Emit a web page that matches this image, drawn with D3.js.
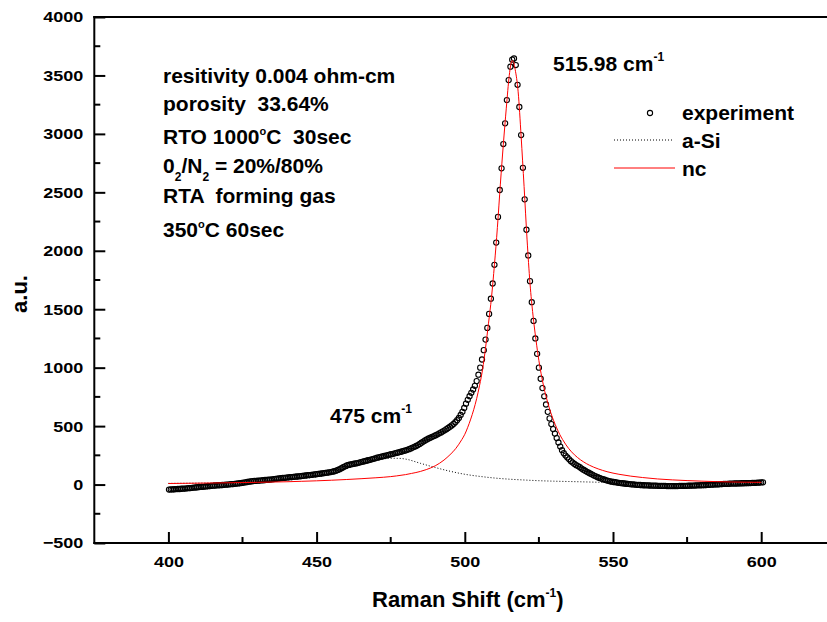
<!DOCTYPE html>
<html><head><meta charset="utf-8">
<script src="https://cdn.jsdelivr.net/npm/d3@7"></script>
<style>
body{margin:0;background:#fff}
svg{display:block}
text{font-family:"Liberation Sans",Arial,sans-serif;font-weight:bold;fill:#000;white-space:pre}
</style>
</head><body>
<svg id="c" width="827" height="622"></svg>
<script>
// Raman shift (cm-1) of the measured points
const ramanShift = [
400.2,400.8,401.4,402.0,402.6,403.2,403.8,404.4,405.0,405.6,
406.2,406.8,407.4,408.0,408.6,409.2,409.8,410.4,411.0,411.6,
412.2,412.8,413.4,414.0,414.6,415.2,415.8,416.4,417.0,417.6,
418.2,418.8,419.4,420.0,420.6,421.2,421.8,422.4,423.0,423.6,
424.2,424.8,425.4,426.0,426.6,427.2,427.8,428.4,429.0,429.6,
430.2,430.8,431.4,432.0,432.6,433.2,433.8,434.4,435.0,435.6,
436.2,436.8,437.4,438.0,438.6,439.2,439.8,440.4,441.0,441.6,
442.2,442.8,443.4,444.0,444.6,445.2,445.8,446.4,447.0,447.6,
448.2,448.8,449.4,450.0,450.6,451.2,451.8,452.4,453.0,453.6,
454.2,454.8,455.4,456.0,456.6,457.2,457.8,458.4,459.0,459.6,
460.2,460.8,461.4,462.0,462.6,463.2,463.8,464.4,465.0,465.6,
466.2,466.8,467.4,468.0,468.6,469.2,469.8,470.4,471.0,471.6,
472.2,472.8,473.4,474.0,474.6,475.2,475.8,476.4,477.0,477.6,
478.2,478.8,479.4,480.0,480.6,481.2,481.8,482.4,483.0,483.6,
484.2,484.8,485.4,486.0,486.6,487.2,487.8,488.4,489.0,489.6,
490.2,490.8,491.4,492.0,492.6,493.2,493.8,494.4,495.0,495.6,
496.2,496.8,497.4,498.0,498.6,499.2,499.8,500.4,501.0,501.6,
502.2,502.8,503.4,504.0,504.6,505.2,505.8,506.4,507.0,507.6,
508.2,508.8,509.4,510.0,510.6,511.2,511.8,512.4,513.0,513.6,
514.2,514.8,515.4,516.0,516.6,517.2,517.8,518.4,519.0,519.6,
520.2,520.8,521.4,522.0,522.6,523.2,523.8,524.4,525.0,525.6,
526.2,526.8,527.4,528.0,528.6,529.2,529.8,530.4,531.0,531.6,
532.2,532.8,533.4,534.0,534.6,535.2,535.8,536.4,537.0,537.6,
538.2,538.8,539.4,540.0,540.6,541.2,541.8,542.4,543.0,543.6,
544.2,544.8,545.4,546.0,546.6,547.2,547.8,548.4,549.0,549.6,
550.2,550.8,551.4,552.0,552.6,553.2,553.8,554.4,555.0,555.6,
556.2,556.8,557.4,558.0,558.6,559.2,559.8,560.4,561.0,561.6,
562.2,562.8,563.4,564.0,564.6,565.2,565.8,566.4,567.0,567.6,
568.2,568.8,569.4,570.0,570.6,571.2,571.8,572.4,573.0,573.6,
574.2,574.8,575.4,576.0,576.6,577.2,577.8,578.4,579.0,579.6,
580.2,580.8,581.4,582.0,582.6,583.2,583.8,584.4,585.0,585.6,
586.2,586.8,587.4,588.0,588.6,589.2,589.8,590.4,591.0,591.6,
592.2,592.8,593.4,594.0,594.6,595.2,595.8,596.4,597.0,597.6,
598.2,598.8,599.4,600.0,600.6];

// measured intensity (a.u.)
const experiment = [
-43,-42,-42,-40,-39,-38,-38,-36,-35,-34,
-32,-31,-30,-28,-26,-25,-23,-21,-20,-19,
-17,-16,-14,-13,-11,-10,-8,-7,-6,-5,
-4,-2,-1,0,2,3,4,6,8,10,
12,14,17,19,22,25,27,29,31,32,
33,34,36,37,39,40,41,43,45,47,
49,51,53,55,57,58,60,62,63,64,
66,67,69,70,72,74,76,78,80,81,
83,85,87,89,91,93,95,97,100,102,
105,107,110,114,119,125,132,140,148,156,
163,168,172,175,178,181,184,188,192,196,
200,204,208,212,216,220,224,230,233,237,
241,245,248,252,256,260,263,267,271,275,
279,283,288,292,297,303,309,316,323,330,
338,348,358,368,377,386,394,401,408,415,
422,430,438,446,455,464,474,484,495,506,
518,533,550,570,595,622,655,692,725,756,
785,813,845,885,940,1000,1070,1150,1240,1340,
1460,1590,1720,1880,2070,2290,2520,2705,2913,3090,
3289,3460,3575,3635,3645,3589,3420,3230,2990,2710,
2440,2180,1960,1740,1560,1400,1250,1118,1000,905,
825,755,685,622,566,517,475,436,398,360,
325,294,268,248,232,216,200,188,176,166,
158,148,137,127,118,109,101,93,85,77,
70,63,57,51,46,41,36,32,28,25,
22,20,17,15,13,11,9,7,5,4,
2,1,0,-2,-3,-4,-5,-6,-7,-7,
-8,-9,-9,-10,-10,-11,-11,-12,-12,-12,
-13,-13,-13,-13,-13,-13,-13,-12,-12,-12,
-11,-11,-10,-10,-9,-9,-8,-7,-7,-6,
-5,-5,-4,-3,-2,-1,0,1,1,2,
3,4,5,5,6,7,8,8,9,9,
10,10,11,11,12,12,13,13,14,14,
15,16,17,18,19];

// amorphous Si fitted component
const aSiShift = [400,410,420,430,440,445,450,455,460,465,470,475,478,480,485,490,495,500,505,510,515,520,525,530,535,540,545,550,560,570,580,590,600];
const aSiFit   = [10,12,16,24,38,50,66,92,135,172,205,225,224,218,182,146,114,88,70,56,46,39,33,29,26,23,20,17,11,8,6,5,4];

// nanocrystalline Si fitted component
const ncShift = [400,410,420,430,440,445,450,455,460,465,470,475,477,480,482,485,487,490,493,495,
496,497,498,499,500,501,502,503,504,505,506,507,508,509,510,511,512,513,514,515,
515.5,516,516.5,517,518,519,520,521,522,523,524,525,526,527,528,529,530,531,532,533,
534,535,536,538,540,542,545,548,552,556,560,565,570,575,580,585,590,595,600];
const ncFit = [9,12,15,19,24,28,32,37,43,50,58,68,74,85,95,112,128,160,210,255,
280,310,345,385,430,490,560,640,735,850,985,1170,1380,1600,1880,2200,2570,2910,3220,3500,
3590,3628,3610,3550,3360,2980,2550,2100,1720,1450,1240,1060,915,795,700,615,545,485,430,385,
345,310,280,232,195,166,134,110,88,72,60,48,40,34,29,25,22,20,19];

const xTicks = [400,450,500,550,600];
const xMinorTicks = [425,475,525,575];
const yTicks = [-500,0,500,1000,1500,2000,2500,3000,3500,4000];
const yMinorTicks = [-250,250,750,1250,1750,2250,2750,3250,3750];

const svg = d3.select('#c');
const x = d3.scaleLinear().domain([375,625]).range([94.3,835.3]);
const y = d3.scaleLinear().domain([-500,4000]).range([543,17]);

// experiment points
const pts = ramanShift.map((v,i)=>({x:v,y:experiment[i]})).filter(d=>d.y!==undefined);
svg.append('g').selectAll('circle').data(pts).join('circle')
  .attr('cx',d=>x(d.x)).attr('cy',d=>y(d.y)).attr('r',2.6)
  .attr('fill','none').attr('stroke','#000').attr('stroke-width',1.1);

// a-Si
const lineA = d3.line().x(d=>x(d[0])).y(d=>y(d[1])).curve(d3.curveMonotoneX);
svg.append('path').attr('d',lineA(d3.zip(aSiShift,aSiFit)))
  .attr('fill','none').attr('stroke','#000').attr('stroke-width',1).attr('stroke-dasharray','1,2');
// nc
svg.append('path').attr('d',lineA(d3.zip(ncShift,ncFit)))
  .attr('fill','none').attr('stroke','#ff0000').attr('stroke-width',1);

// axes
const xAxis = d3.axisBottom(x).tickValues(xTicks).tickSize(-11).tickSizeOuter(0).tickPadding(13).tickFormat(d3.format('d'));
const gx = svg.append('g').attr('transform','translate(0,543)').call(xAxis);
const yAxis = d3.axisLeft(y).tickValues(yTicks).tickSize(-11).tickSizeOuter(0).tickPadding(11).tickFormat(d3.format('d'));
const gy = svg.append('g').attr('transform','translate(94.3,0)').call(yAxis);
[gx,gy].forEach(g=>{
  g.select('.domain').remove();
  g.selectAll('.tick line').attr('stroke','#000').attr('stroke-width',2);
  g.selectAll('.tick text').attr('font-size','15.5px').attr('font-family','"Liberation Sans",Arial,sans-serif').attr('font-weight','bold').attr('fill','#000')
    .each(function(){const l=this.getComputedTextLength();d3.select(this).attr('textLength',l*1.16).attr('lengthAdjust','spacingAndGlyphs');});
});
gx.selectAll('.tick text').attr('dy',null).attr('y',24);
// minor ticks
svg.append('g').selectAll('line').data(xMinorTicks).join('line')
  .attr('x1',d=>x(d)).attr('x2',d=>x(d)).attr('y1',543).attr('y2',537).attr('stroke','#000').attr('stroke-width',2);
svg.append('g').selectAll('line').data(yMinorTicks).join('line')
  .attr('y1',d=>y(d)).attr('y2',d=>y(d)).attr('x1',94.3).attr('x2',100.3).attr('stroke','#000').attr('stroke-width',2);
// frame
const frame = svg.append('g').attr('stroke','#000').attr('stroke-width',2);
frame.append('line').attr('x1',x(375)).attr('x2',x(375)).attr('y1',16).attr('y2',544);
frame.append('line').attr('x1',x(375)-1).attr('x2',x(625)).attr('y1',y(-500)).attr('y2',y(-500));
frame.append('line').attr('x1',x(375)-1).attr('x2',x(625)).attr('y1',y(4000)).attr('y2',y(4000));

// rich text helper: parts = [[text, kind]] kind: ''|'sup'|'sub'|'deg'
function rich(xp, yp, size, parts, anchor){
  const t = svg.append('text').attr('x',xp).attr('y',yp).attr('font-size',size+'px');
  if(anchor) t.attr('text-anchor',anchor);
  let shift = 0;
  parts.forEach(([s,k])=>{
    const sp = t.append('tspan').text(s);
    let target = 0, fs = size;
    if(k==='sup'){target=-10;fs=12;}
    else if(k==='deg'){target=-9;fs=11;}
    else if(k==='sub'){target=8;fs=12;}
    sp.attr('dy',target-shift).attr('font-size',fs+'px');
    shift = target;
  });
  return t;
}

// annotations
rich(163,83,21,[['resitivity 0.004 ohm-cm','']]);
rich(163,111,21,[['porosity  33.64%','']]);
rich(163,144,21,[['RTO 1000',''],['o','deg'],['C  30sec','']]);
rich(163,173,21,[['0',''],['2','sub'],['/N',''],['2','sub'],[' = 20%/80%','']]);
rich(163,203,21,[['RTA  forming gas','']]);
rich(163,237,21,[['350',''],['o','deg'],['C 60sec','']]);
rich(553,71,21,[['515.98 cm',''],['-1','sup']]);
rich(330,423,21,[['475 cm',''],['-1','sup']]);

// legend
svg.append('circle').attr('cx',650).attr('cy',113).attr('r',2.6).attr('fill','none').attr('stroke','#000').attr('stroke-width',1.1);
svg.append('line').attr('x1',614).attr('x2',673).attr('y1',140).attr('y2',140).attr('stroke','#000').attr('stroke-dasharray','1,2');
svg.append('line').attr('x1',614).attr('x2',675).attr('y1',168).attr('y2',168).attr('stroke','#ff0000');
rich(682,120,21,[['experiment','']]);
rich(682,148,21,[['a-Si','']]);
rich(682,176,21,[['nc','']]);

// axis titles
rich(372,607,22,[['Raman Shift (cm',''],['-1','sup'],[')','']]);
svg.append('text').attr('transform','translate(27,294) rotate(-90)').attr('text-anchor','middle').attr('font-size','22px').text('a.u.');
</script>
</body></html>
